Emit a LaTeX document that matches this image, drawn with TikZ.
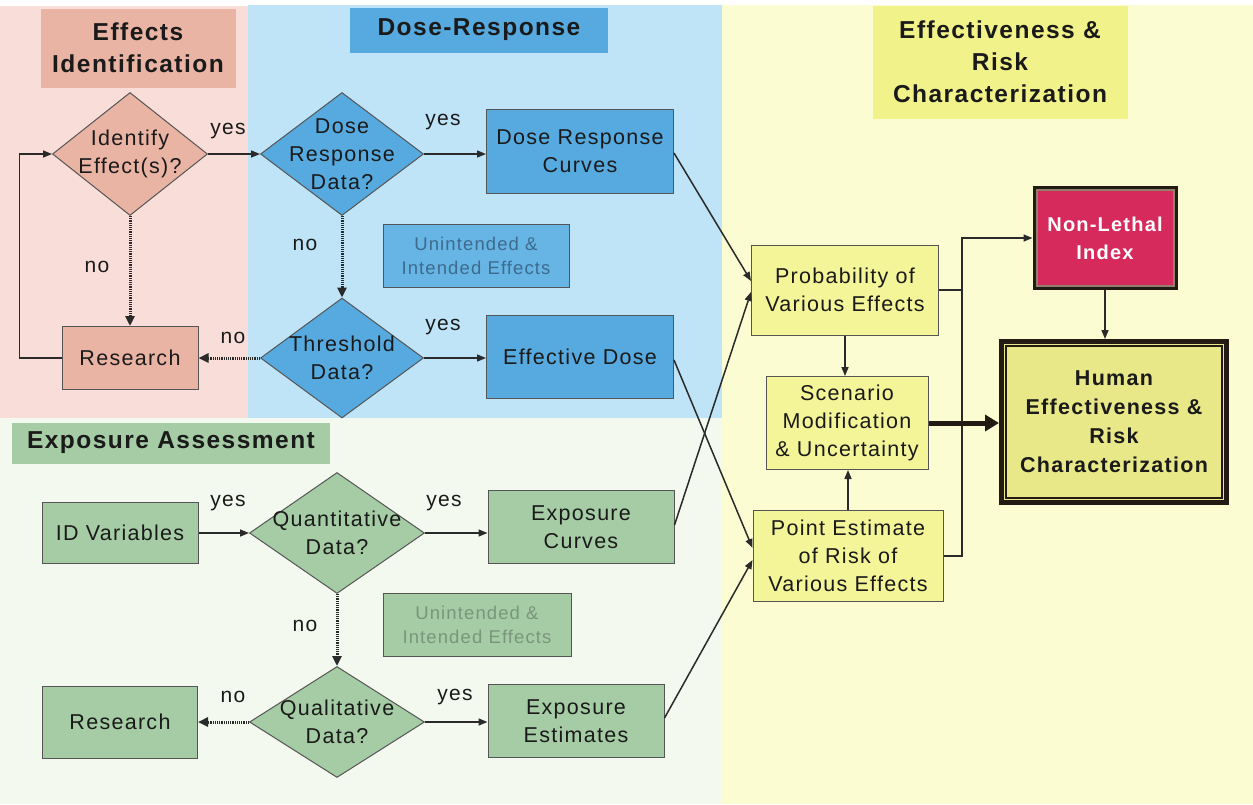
\documentclass[tikz,border=0pt]{standalone}
\usepackage{fontspec}
\setmainfont{Liberation Sans}[LetterSpace=6]
\usetikzlibrary{shapes.geometric,arrows.meta,calc}
\definecolor{pinkbg}{HTML}{F8DDD8}
\definecolor{pinknode}{HTML}{EAB4A5}
\definecolor{bluebg}{HTML}{BFE4F7}
\definecolor{bluenode}{HTML}{57AADF}
\definecolor{blueue}{HTML}{66B5E5}
\definecolor{greenbg}{HTML}{F4F9F0}
\definecolor{greennode}{HTML}{A6CCA5}
\definecolor{yellowbg}{HTML}{FCFCD2}
\definecolor{yellownode}{HTML}{F4F498}
\definecolor{yellowttl}{HTML}{F2F28A}
\definecolor{crimson}{HTML}{D62A5C}
\definecolor{bordc}{HTML}{555555}
\definecolor{linec}{HTML}{2A2A2A}
\definecolor{txt}{HTML}{1A1A1A}
\definecolor{ueblue}{HTML}{3E6A8E}
\definecolor{uegreen}{HTML}{7A967A}
\definecolor{framec}{HTML}{231A14}
\begin{document}
\begin{tikzpicture}[x=1pt,y=-1pt,
  box/.style={draw=bordc, line width=1pt, rectangle, align=center, inner sep=0pt, text=txt, font=\fontsize{21.5}{28}\selectfont},
  ue/.style={draw=bordc, line width=1pt, rectangle, align=center, inner sep=0pt, font=\fontsize{18.5}{24}\selectfont},
  dia/.style={draw=bordc, line width=1pt, diamond, inner sep=0pt},
  dtxt/.style={align=center, text=txt, font=\fontsize{21.5}{28}\selectfont, inner sep=0pt},
  ttl/.style={rectangle, align=center, inner sep=0pt, text=txt, font=\bfseries\fontsize{24.5}{32}\selectfont},
  lab/.style={inner sep=0pt, text=txt, font=\fontsize{21}{24}\selectfont},
  arr/.style={draw=linec, line width=1.5pt, -{Triangle[length=9pt,width=7pt]}},
  plain/.style={draw=linec, line width=1.5pt},
  dotarr/.style={draw=linec, line width=3pt, dash pattern=on 1.2pt off 1pt, -{Triangle[length=10pt,width=9pt]}},
  thickarr/.style={draw=framec, line width=5pt, -{Triangle[length=14pt,width=16pt]}}
]
\useasboundingbox (0,0) rectangle (1253,804);
% backgrounds
\fill[white] (0,0) rectangle (1253,804);
\fill[pinkbg] (0,6) rectangle (248,418);
\fill[bluebg] (248,5) rectangle (722,418);
\fill[greenbg] (0,418) rectangle (722,804);
\fill[yellowbg] (722,5) rectangle (1253,804);

% titles
\node[ttl, fill=pinknode, minimum width=195pt, minimum height=79pt] (t1) at (138,48) {Effects\\Identification};
\node[ttl, fill=bluenode, minimum width=258pt, minimum height=45pt] (t2) at (479,30) {Dose-Response};
\node[ttl, fill=yellowttl, minimum width=255pt, minimum height=113pt] (t3) at (1000,62) {Effectiveness \&\\Risk\\Characterization};
\node[ttl, fill=greennode, minimum width=318pt, minimum height=41pt] (t4) at (171,443) {Exposure Assessment};

% effects identification
\node[dia, fill=pinknode, minimum width=155pt, minimum height=123pt, label={[dtxt]center:Identify\\Effect(s)?}] (idf) at (130,154) {};
\node[box, fill=pinknode, minimum width=136pt, minimum height=63pt] (res1) at (130,358) {Research};

% dose response
\node[dia, fill=bluenode, minimum width=163pt, minimum height=123pt, label={[dtxt]center:Dose\\Response\\Data?}] (drd) at (342,154) {};
\node[box, fill=bluenode, minimum width=187pt, minimum height=84pt] (drc) at (580,151) {Dose Response\\Curves};
\node[ue, fill=blueue, text=ueblue, minimum width=186pt, minimum height=63pt] (ue1) at (476,256) {Unintended \&\\Intended Effects};
\node[dia, fill=bluenode, minimum width=163pt, minimum height=120pt, label={[dtxt]center:Threshold\\Data?}] (thd) at (342,358) {};
\node[box, fill=bluenode, minimum width=187pt, minimum height=83pt] (ed) at (580,357) {Effective Dose};

% exposure
\node[box, fill=greennode, minimum width=156pt, minimum height=61pt] (idv) at (120,533) {ID Variables};
\node[dia, fill=greennode, minimum width=175pt, minimum height=121pt, label={[dtxt]center:Quantitative\\Data?}] (qnd) at (337,533) {};
\node[box, fill=greennode, minimum width=186pt, minimum height=73pt] (ec) at (581,527) {Exposure\\Curves};
\node[ue, fill=greennode, text=uegreen, minimum width=188pt, minimum height=63pt] (ue2) at (477,625) {Unintended \&\\Intended Effects};
\node[dia, fill=greennode, minimum width=175pt, minimum height=111pt, label={[dtxt]center:Qualitative\\Data?}] (qld) at (337,722) {};
\node[box, fill=greennode, minimum width=155pt, minimum height=72pt] (res2) at (120,722) {Research};
\node[box, fill=greennode, minimum width=176pt, minimum height=73pt] (ee) at (576,721) {Exposure\\Estimates};

% characterization
\node[box, fill=yellownode, minimum width=187pt, minimum height=90pt] (prob) at (845,290) {Probability of\\Various Effects};
\node[box, fill=yellownode, minimum width=162pt, minimum height=93pt] (scen) at (847,423) {Scenario\\Modification\\\& Uncertainty};
\node[box, fill=yellownode, minimum width=190pt, minimum height=91pt] (pe) at (848,556) {Point Estimate\\of Risk of\\Various Effects};
\node[box, fill=crimson, draw=framec, line width=5pt, text=white, font=\bfseries\fontsize{20}{28}\selectfont, minimum width=140pt, minimum height=99pt] (nli) at (1105,238) {Non-Lethal\\Index};
\draw[draw=gray!70!brown, line width=2pt] ($(nli.north west)+(4,4)$) rectangle ($(nli.south east)+(-4,-4)$);
\node[box, fill=yellownode!90!olive, draw=framec, line width=5pt, font=\bfseries\fontsize{21.5}{29}\selectfont, minimum width=225pt, minimum height=161pt] (hum) at (1114,422) {Human\\Effectiveness \&\\Risk\\Characterization};
\draw[draw=framec, line width=1.3pt] ($(hum.north west)+(7,7)$) rectangle ($(hum.south east)+(-7,-7)$);
\coordinate (vx) at (962,238);

% labels
\node[lab] (l1) at (228,131) {yes};
\node[lab] (l2) at (97,267) {no};
\node[lab] (l3) at (443,122) {yes};
\node[lab] (l4) at (305,245) {no};
\node[lab] (l5) at (233,338) {no};
\node[lab] (l6) at (443,327) {yes};
\node[lab] (l7) at (228,503) {yes};
\node[lab] (l8) at (444,503) {yes};
\node[lab] (l9) at (305,626) {no};
\node[lab] (l10) at (233,697) {no};
\node[lab] (l11) at (455,697) {yes};

% connectors
\draw[arr] (res1.west) -- ++(-42,0) |- (idf.west);
\draw[dotarr] (idf.south) -- (res1.north);
\draw[arr] (idf.east) -- (drd.west);
\draw[arr] (drd.east) -- (drd.east -| drc.west);
\draw[dotarr] (drd.south) -- (thd.north);
\draw[dotarr] (thd.west) -- (res1.east);
\draw[arr] (thd.east) -- (thd.east -| ed.west);
\draw[arr] (idv.east) -- (qnd.west);
\draw[arr] (qnd.east) -- (qnd.east -| ec.west);
\draw[dotarr] (qnd.south) -- (qld.north);
\draw[dotarr] (qld.west) -- (res2.east);
\draw[arr] (qld.east) -- (qld.east -| ee.west);
\draw[arr] ($(drc.east)+(0,2)$) -- ($(prob.west)+(0,-9)$);
\draw[arr] ($(ec.east)+(0,-2)$) -- ($(prob.west)+(0,2)$);
\draw[arr] ($(ed.east)+(0,3)$) -- ($(pe.west)+(0,-8)$);
\draw[arr] ($(ee.east)+(0,-3)$) -- ($(pe.west)+(0,4)$);
\draw[plain] (prob.east) -- (prob.east -| vx);
\draw[arr] (pe.east) -| (vx) -- (nli.west);
\draw[arr] (prob.south) -- (prob.south |- scen.north);
\draw[arr] (pe.north) -- (pe.north |- scen.south);
\draw[thickarr] (scen.east) -- (scen.east -| hum.west);
\draw[arr] (nli.south) -- (nli.south |- hum.north);
\end{tikzpicture}
\end{document}
